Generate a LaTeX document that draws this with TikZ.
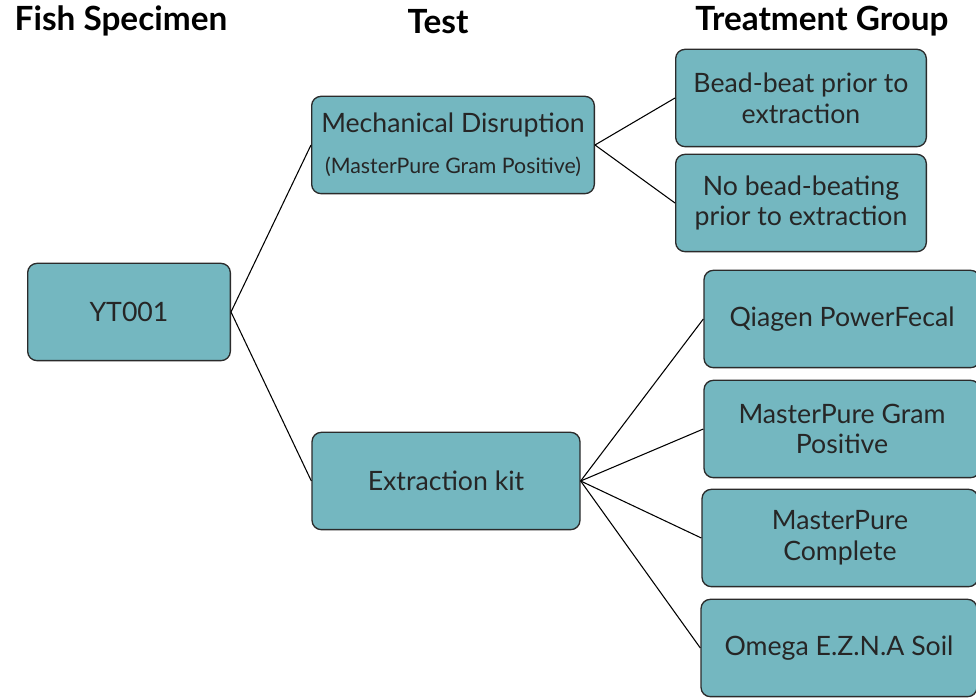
\documentclass[tikz,border=0pt]{standalone}
\usepackage{fontspec}
\setmainfont{Lato}
\definecolor{boxfill}{HTML}{74B7C0}
\definecolor{boxline}{HTML}{2B2B2B}
\definecolor{boxtext}{HTML}{262626}
\tikzset{
  box/.style={draw=boxline, fill=boxfill, rounded corners=7pt, line width=1pt,
    text=boxtext, align=center, inner sep=0pt, minimum height=73pt,
    font=\fontsize{20}{23}\selectfont},
  head/.style={font=\bfseries\fontsize{25}{28}\selectfont},
  link/.style={line width=0.8pt}
}
\begin{document}
\begin{tikzpicture}[x=0.75pt,y=-0.75pt]
            \useasboundingbox (0,0) rectangle (976,698);
            \clip (0,0) rectangle (976,698);
            \node[head] (hfish) at (121,21) {Fish Specimen};
            \node[head] (htest) at (438,22) {Test};
            \node[head] (hgroup) at (822,21) {Treatment Group};
            \node[box, minimum width=152pt] (yt) at (129,312) {YT001};
            \node[box, minimum width=212pt] (mech) at (453,145)
                {Mechanical Disruption\\[8pt]{\fontsize{16}{18}\selectfont (MasterPure Gram Positive)}};
            \node[box, minimum width=201pt] (kit) at (446,481) {Extraction kit};
            \node[box, minimum width=188pt] (bead) at (801,98) {Bead-beat prior to\\extraction};
            \node[box, minimum width=188pt] (nobead) at (801,203) {No bead-beating\\prior to extraction};
            \node[box, minimum width=207pt] (qiagen) at (842,319) {Qiagen PowerFecal};
            \node[box, minimum width=207pt] (mpgram) at (842,429) {MasterPure Gram\\Positive};
            \node[box, minimum width=207pt] (mpcomp) at (840,538) {MasterPure\\Complete};
            \node[box, minimum width=207pt] (omega) at (839,648) {Omega E.Z.N.A Soil};
            \draw[link] (yt.east) -- (mech.west);
            \draw[link] (yt.east) -- (kit.west);
            \draw[link] (mech.east) -- (bead.west);
            \draw[link] (mech.east) -- (nobead.west);
            \foreach \k in {qiagen, mpgram, mpcomp, omega}
                \draw[link] (kit.east) -- (\k.west);
        \end{tikzpicture}
\end{document}
